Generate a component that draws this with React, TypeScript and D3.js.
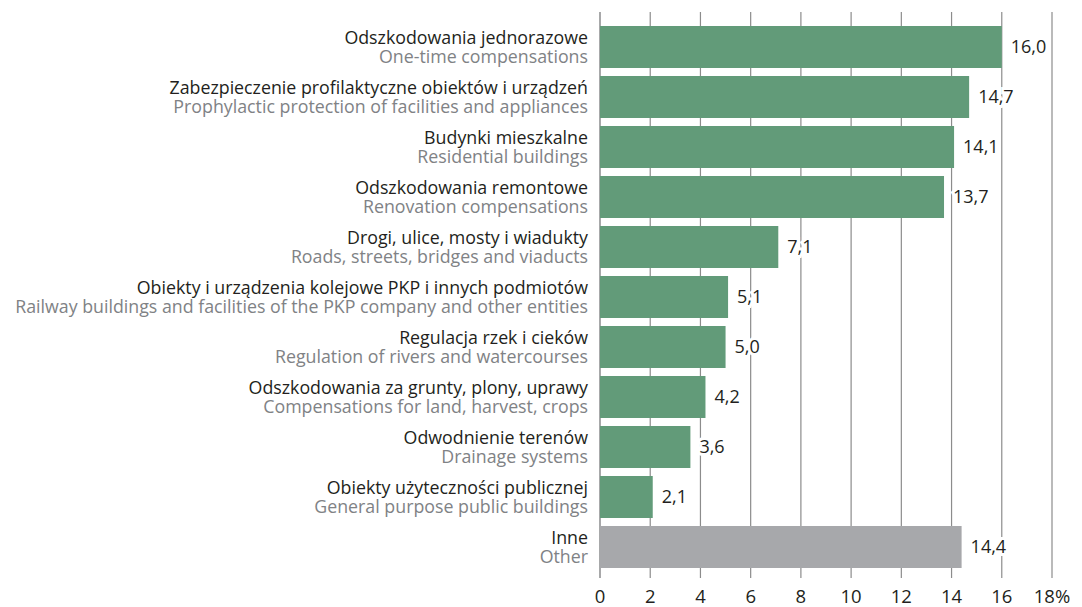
import { useEffect, useRef } from "react";
import * as d3 from "d3";

const labelsPl = [
  "Odszkodowania jednorazowe",
  "Zabezpieczenie profilaktyczne obiektów i urządzeń",
  "Budynki mieszkalne",
  "Odszkodowania remontowe",
  "Drogi, ulice, mosty i wiadukty",
  "Obiekty i urządzenia kolejowe PKP i innych podmiotów",
  "Regulacja rzek i cieków",
  "Odszkodowania za grunty, plony, uprawy",
  "Odwodnienie terenów",
  "Obiekty użyteczności publicznej",
  "Inne",
];
const labelsEn = [
  "One-time compensations",
  "Prophylactic protection of facilities and appliances",
  "Residential buildings",
  "Renovation compensations",
  "Roads, streets, bridges and viaducts",
  "Railway buildings and facilities of the PKP company and other entities",
  "Regulation of rivers and watercourses",
  "Compensations for land, harvest, crops",
  "Drainage systems",
  "General purpose public buildings",
  "Other",
];
const values = [16.0, 14.7, 14.1, 13.7, 7.1, 5.1, 5.0, 4.2, 3.6, 2.1, 14.4];
const ticks = [0, 2, 4, 6, 8, 10, 12, 14, 16, 18];

const FONT = "'Open Sans', sans-serif";

const App = () => {
  const svgRef = useRef<SVGSVGElement>(null);

  useEffect(() => {
    const svg = d3.select(svgRef.current).attr("width", 1082).attr("height", 607);
    svg.selectAll("*").remove();

    const x = d3.scaleLinear().domain([0, 18]).range([600, 1052]);
    const y = d3
      .scaleBand<number>()
      .domain(values.map((_, i) => i))
      .range([22, 572])
      .paddingInner(0.16)
      .paddingOuter(0.08);

    // siatka
    svg
      .append("g")
      .selectAll("line")
      .data(ticks)
      .join("line")
      .attr("x1", (d) => x(d))
      .attr("x2", (d) => x(d))
      .attr("y1", 12)
      .attr("y2", 578)
      .attr("stroke", (d) => (d === 0 ? "#6d6e71" : "#8c8c8c"))
      .attr("stroke-width", 1.2);

    // słupki
    svg
      .append("g")
      .selectAll("rect")
      .data(values)
      .join("rect")
      .attr("x", x(0))
      .attr("y", (_, i) => y(i)!)
      .attr("width", (d) => x(d) - x(0))
      .attr("height", y.bandwidth())
      .attr("fill", (_, i) => (i === values.length - 1 ? "#a7a8ab" : "#629b79"));

    // wartości (białe tło zasłania siatkę)
    svg
      .append("g")
      .selectAll("text")
      .data(values)
      .join("text")
      .attr("x", (d) => x(d) + 9)
      .attr("y", (_, i) => y(i)! + y.bandwidth() / 2)
      .attr("dy", "0.35em")
      .attr("font-family", FONT)
      .attr("font-size", 18)
      .attr("fill", "#231f20")
      .attr("stroke", "#fff")
      .attr("stroke-width", 6)
      .attr("paint-order", "stroke")
      .text((d) => d.toFixed(1).replace(".", ","));

    // etykiety kategorii
    const lab = svg.append("g").attr("font-family", FONT).attr("font-size", 17.8).attr("text-anchor", "end");
    lab
      .selectAll("text.pl")
      .data(labelsPl)
      .join("text")
      .attr("class", "pl")
      .attr("x", 588)
      .attr("y", (_, i) => y(i)! + y.bandwidth() / 2 - 9.5)
      .attr("dy", "0.35em")
      .attr("fill", "#231f20")
      .text((d) => d);
    lab
      .selectAll("text.en")
      .data(labelsEn)
      .join("text")
      .attr("class", "en")
      .attr("x", 588)
      .attr("y", (_, i) => y(i)! + y.bandwidth() / 2 + 9.5)
      .attr("dy", "0.35em")
      .attr("fill", "#808285")
      .text((d) => d);

    // opisy osi
    svg
      .append("g")
      .selectAll("text")
      .data(ticks)
      .join("text")
      .attr("x", (d) => x(d))
      .attr("y", 597)
      .attr("dy", "0.35em")
      .attr("text-anchor", "middle")
      .attr("font-family", FONT)
      .attr("font-size", 18.5)
      .attr("fill", "#231f20")
      .text((d) => (d === 18 ? "18%" : String(d)));
  }, []);

  return <svg ref={svgRef} style={{ position: "absolute", left: 0, top: 0 }} />;
};

export default App;
